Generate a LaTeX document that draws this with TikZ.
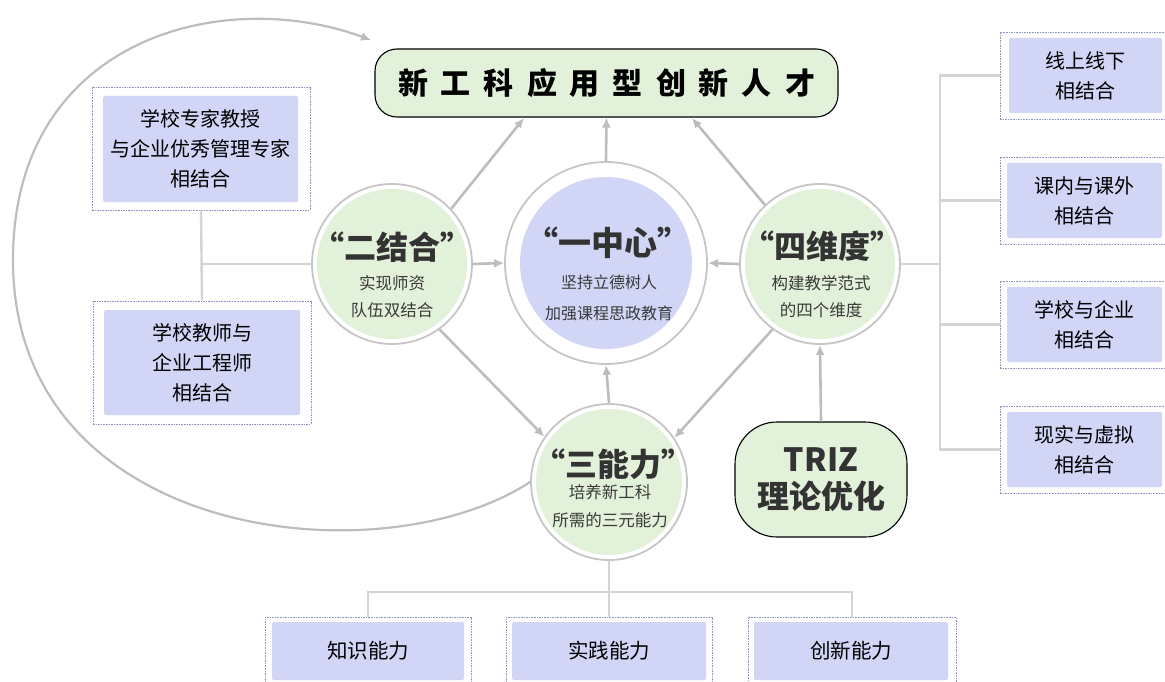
\documentclass[tikz,border=0pt]{standalone}
\usepackage{fontspec}
\setmainfont{Noto Sans CJK SC}
\usetikzlibrary{arrows.meta}
\definecolor{greenfill}{HTML}{E2F1D9}
\definecolor{lav}{HTML}{D1D5F6}
\definecolor{ringgray}{HTML}{C6C6C6}
\definecolor{arrgray}{HTML}{BDBDBD}
\definecolor{treegray}{HTML}{D4D4D4}
\definecolor{dashblue}{HTML}{8E95C4}
\definecolor{headtxt}{HTML}{333333}
\definecolor{subtxt}{HTML}{3A3A3A}
\newcommand{\qL}{\makebox[0.45em][r]{“}}
\newcommand{\qR}{\makebox[0.45em][l]{”}}
\tikzset{
  titlebox/.style={draw=black, line width=1.1pt, fill=greenfill, rounded corners=22pt,
    minimum width=463pt, minimum height=68pt, inner sep=0pt, text=black},
  trizbox/.style={draw=black, line width=1.1pt, fill=greenfill, rounded corners=42pt,
    minimum width=172pt, minimum height=115pt, inner sep=0pt, align=center,
    text=headtxt, font=\fontsize{32}{37}\selectfont\bfseries},
  ring/.style={circle, draw=ringgray, line width=1.8pt, fill=white, inner sep=0pt},
  head/.style={inner sep=0pt, text=headtxt, font=\fontsize{32}{36}\selectfont\bfseries},
  subtext/.style={inner sep=0pt, align=center, text=subtxt},
  arr/.style={draw=arrgray, line width=2.6pt, -{Latex[length=10pt,width=9pt]}},
  curvearr/.style={draw=arrgray, line width=2.2pt, -{Latex[length=10pt,width=9pt]}},
  tree/.style={draw=treegray, line width=2.4pt},
  dbox/.style={draw=dashblue, dash pattern=on 1.6pt off 1pt, line width=0.7pt, fill=white, inner sep=0pt},
  fbox/.style={fill=lav, rounded corners=1.5pt, inner sep=0pt, align=center, text=black,
    font=\fontsize{20}{30}\selectfont},
}
\begin{document}
\begin{tikzpicture}[x=1pt,y=-1pt]
\useasboundingbox (0,0) rectangle (1165,682);

% ---------- title ----------
\node[titlebox] (title) at (606.5,83)
  {\fontsize{30}{30}\selectfont\bfseries 新\hspace{13pt}工\hspace{13pt}科\hspace{13pt}应\hspace{13pt}用\hspace{13pt}型\hspace{13pt}创\hspace{13pt}新\hspace{13pt}人\hspace{13pt}才};

% ---------- circles ----------
\node[ring, minimum size=160pt] (erj) at (392,264) {};
\fill[greenfill] (erj.center) circle[radius=75pt];
\node[head] (erjH) at (392,247) {\qL 二结合\qR};
\node[subtext, font=\fontsize{16.5}{27}\selectfont] (erjS) at (392,297) {实现师资\\队伍双结合};

\node[ring, minimum size=202pt] (ctr) at (606,263) {};
\fill[lav] (ctr.center) circle[radius=86pt];
\node[head, font=\fontsize{33}{36}\selectfont\bfseries] (ctrH) at (608,243) {\qL 一中心\qR};
\node[subtext, font=\fontsize{16}{31}\selectfont] (ctrS) at (609,298) {坚持立德树人\\加强课程思政教育};

\node[ring, minimum size=160pt] (sw) at (820,264) {};
\fill[greenfill] (sw.center) circle[radius=75pt];
\node[head] (swH) at (822,246) {\qL 四维度\qR};
\node[subtext, font=\fontsize{16.5}{27}\selectfont] (swS) at (821,297) {构建教学范式\\的四个维度};

\node[ring, minimum size=156pt] (sn) at (609,482) {};
\fill[greenfill] (sn.center) circle[radius=73pt];
\node[head] (snH) at (613,464) {\qL 三能力\qR};
\node[subtext, font=\fontsize{16.5}{28}\selectfont] (snS) at (610,506) {培养新工科\\所需的三元能力};

% ---------- TRIZ ----------
\node[trizbox] (triz) at (821,479.5) {TRIZ\\理论优化};

% ---------- left boxes ----------
\node[dbox, minimum width=218pt, minimum height=123pt] (L1o) at (201,148.5) {};
\node[fbox, minimum width=195pt, minimum height=106pt] (L1) at (200.5,149) {学校专家教授\\与企业优秀管理专家\\相结合};
\node[dbox, minimum width=218pt, minimum height=123pt] (L2o) at (202,362.5) {};
\node[fbox, minimum width=196pt, minimum height=105pt] (L2) at (202,362.5) {学校教师与\\企业工程师\\相结合};

% ---------- right boxes ----------
\node[dbox, minimum width=180pt, minimum height=87pt] (R1o) at (1090,75.5) {};
\node[fbox, minimum width=153pt, minimum height=75pt] (R1) at (1085.5,75.5) {线上线下\\相结合};
\node[dbox, minimum width=180pt, minimum height=87pt] (R2o) at (1090,200.5) {};
\node[fbox, minimum width=155pt, minimum height=75pt] (R2) at (1084.5,200.5) {课内与课外\\相结合};
\node[dbox, minimum width=180pt, minimum height=87pt] (R3o) at (1090,324.5) {};
\node[fbox, minimum width=155pt, minimum height=75pt] (R3) at (1084.5,324.5) {学校与企业\\相结合};
\node[dbox, minimum width=180pt, minimum height=87pt] (R4o) at (1090,449.5) {};
\node[fbox, minimum width=155pt, minimum height=75pt] (R4) at (1084.5,449.5) {现实与虚拟\\相结合};

% ---------- bottom boxes ----------
\node[dbox, minimum width=206pt, minimum height=70pt] (B1o) at (368,652) {};
\node[fbox, minimum width=192pt, minimum height=58pt, font=\fontsize{20.5}{30}\selectfont] (B1) at (368,651) {知识能力};
\node[dbox, minimum width=206pt, minimum height=70pt] (B2o) at (609,652) {};
\node[fbox, minimum width=194pt, minimum height=58pt, font=\fontsize{20.5}{30}\selectfont] (B2) at (609,651) {实践能力};
\node[dbox, minimum width=208pt, minimum height=70pt] (B3o) at (852,652) {};
\node[fbox, minimum width=194pt, minimum height=58pt, font=\fontsize{20.5}{30}\selectfont] (B3) at (851,651) {创新能力};

% ---------- tree connectors ----------
\coordinate (Lj) at (201,264);
\draw[tree] (L1o.south) -- (L2o.north);
\draw[tree] (Lj) -- (erj.west);

\coordinate (Rj) at (940,264);
\draw[tree] (sw.east) -- (Rj);
\draw[tree] (R1o.west) -| (Rj) |- (R4o.west);
\draw[tree] (R2o.west) -- (R2o.west -| Rj);
\draw[tree] (R3o.west) -- (R3o.west -| Rj);

\coordinate (Bj) at (609,592);
\draw[tree] (sn.south) -- (B2o.north);
\draw[tree] (B1o.north) |- (Bj) -| (B3o.north);

% ---------- arrows ----------
\coordinate (tA) at (524,118);
\coordinate (tC) at (692,118);
\draw[arr] (erj.43) -- (tA);
\draw[arr] (ctr.north) -- (title.south);
\draw[arr] (sw.133) -- (tC);
\draw[arr] (erj.east) -- (ctr.west);
\draw[arr] (sw.west) -- (ctr.east);
\draw[arr] (sn.north) -- (ctr.south);
\draw[arr] (erj.-54) -- (sn.145);
\draw[arr] (sw.234) -- (sn.34);
\draw[arr] (triz.north) -- (sw.south);

% ---------- big curve ----------
\coordinate (cL) at (13,260);
\coordinate (cE) at (371,40);
\draw[curvearr] (sn.west) .. controls (380,580) and (13,540) .. (cL)
  .. controls (13,40) and (220,-15) .. (cE);
\end{tikzpicture}
\end{document}
